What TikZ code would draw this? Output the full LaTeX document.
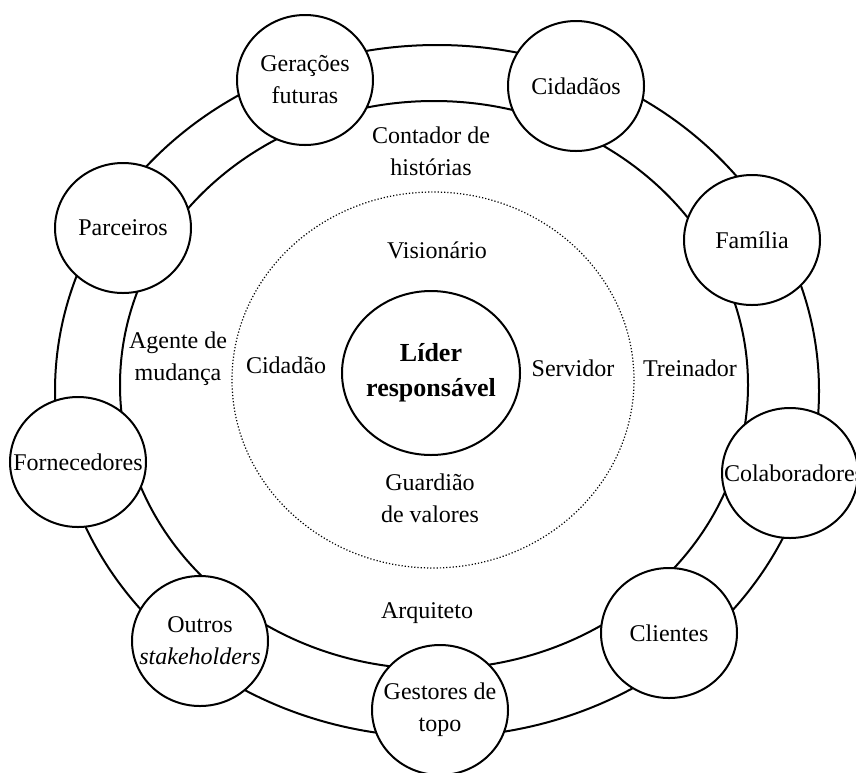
\documentclass[tikz,border=0pt]{standalone}
\usepackage{fontspec}
\setmainfont{Liberation Serif}
\usetikzlibrary{shapes.geometric}

\begin{document}
\begin{tikzpicture}[
  x=0.5pt,y=-0.5pt,
  font=\fontsize{12}{16}\selectfont,
  ring/.style={line width=1pt},
  stake/.style={draw,ellipse,line width=1pt,fill=white,minimum width=68pt,minimum height=65pt,inner sep=0pt},
  txt/.style={align=center,inner sep=0pt},
  role/.style={align=center,inner sep=1pt},
]
  \useasboundingbox (0,0) rectangle (856,772);

  % ring
  \draw[ring] (437,391) ellipse [x radius=382,y radius=346];
  \draw[ring] (434,385) ellipse [x radius=314,y radius=284];

  % stakeholders
  \node[stake] (ger) at (305,80) {};
  \node[stake] (cid) at (576,86) {};
  \node[stake] (fam) at (752,240) {};
  \node[stake] (colab) at (790,473) {};
  \node[stake] (cli) at (669,633) {};
  \node[stake] (gest) at (440,710) {};
  \node[stake] (outros) at (200,641) {};
  \node[stake] (forn) at (78,462) {};
  \node[stake] (parc) at (123,228) {};

  \node[txt] (ger-t) at (ger) {Gerações\\futuras};
  \node[txt] (cid-t) at (cid) {Cidadãos};
  \node[txt] (fam-t) at (fam) {Família};
  \node[txt] (colab-t) at ([xshift=2pt]colab) {Colaboradores};
  \node[txt] (cli-t) at (cli) {Clientes};
  \node[txt] (gest-t) at (gest) {Gestores de\\topo};
  \node[txt] (outros-t) at (outros) {Outros\\\textit{stakeholders}};
  \node[txt] (forn-t) at (forn) {Fornecedores};
  \node[txt] (parc-t) at (parc) {Parceiros};

  % roles
  \node[role] (contador) at (431,151) {Contador de\\histórias};
  \node[role] (agente) at (178,359) {Agente de\\mudança};
  \node[role] (treinador) at (690,368) {Treinador};
  \node[role] (arquiteto) at (427,613) {Arquiteto};

  \draw[line width=0.6pt,dash pattern=on 0.6pt off 1pt] (433,380) ellipse [x radius=201,y radius=188];

  \node[role] (vision) at (437,250) {Visionário};
  \node[role] (cidadao) at (286,365) {Cidadão};
  \node[role] (servidor) at (573,368) {Servidor};
  \node[role] (guardiao) at (430,498) {Guardião\\de valores};

  % centre
  \node[stake,minimum width=89pt,minimum height=82pt] (lider) at (431,373) {};
  \node[txt,font=\fontsize{13}{17.5}\selectfont\bfseries] (lider-t) at (lider) {Líder\\responsável};
\end{tikzpicture}
\end{document}
